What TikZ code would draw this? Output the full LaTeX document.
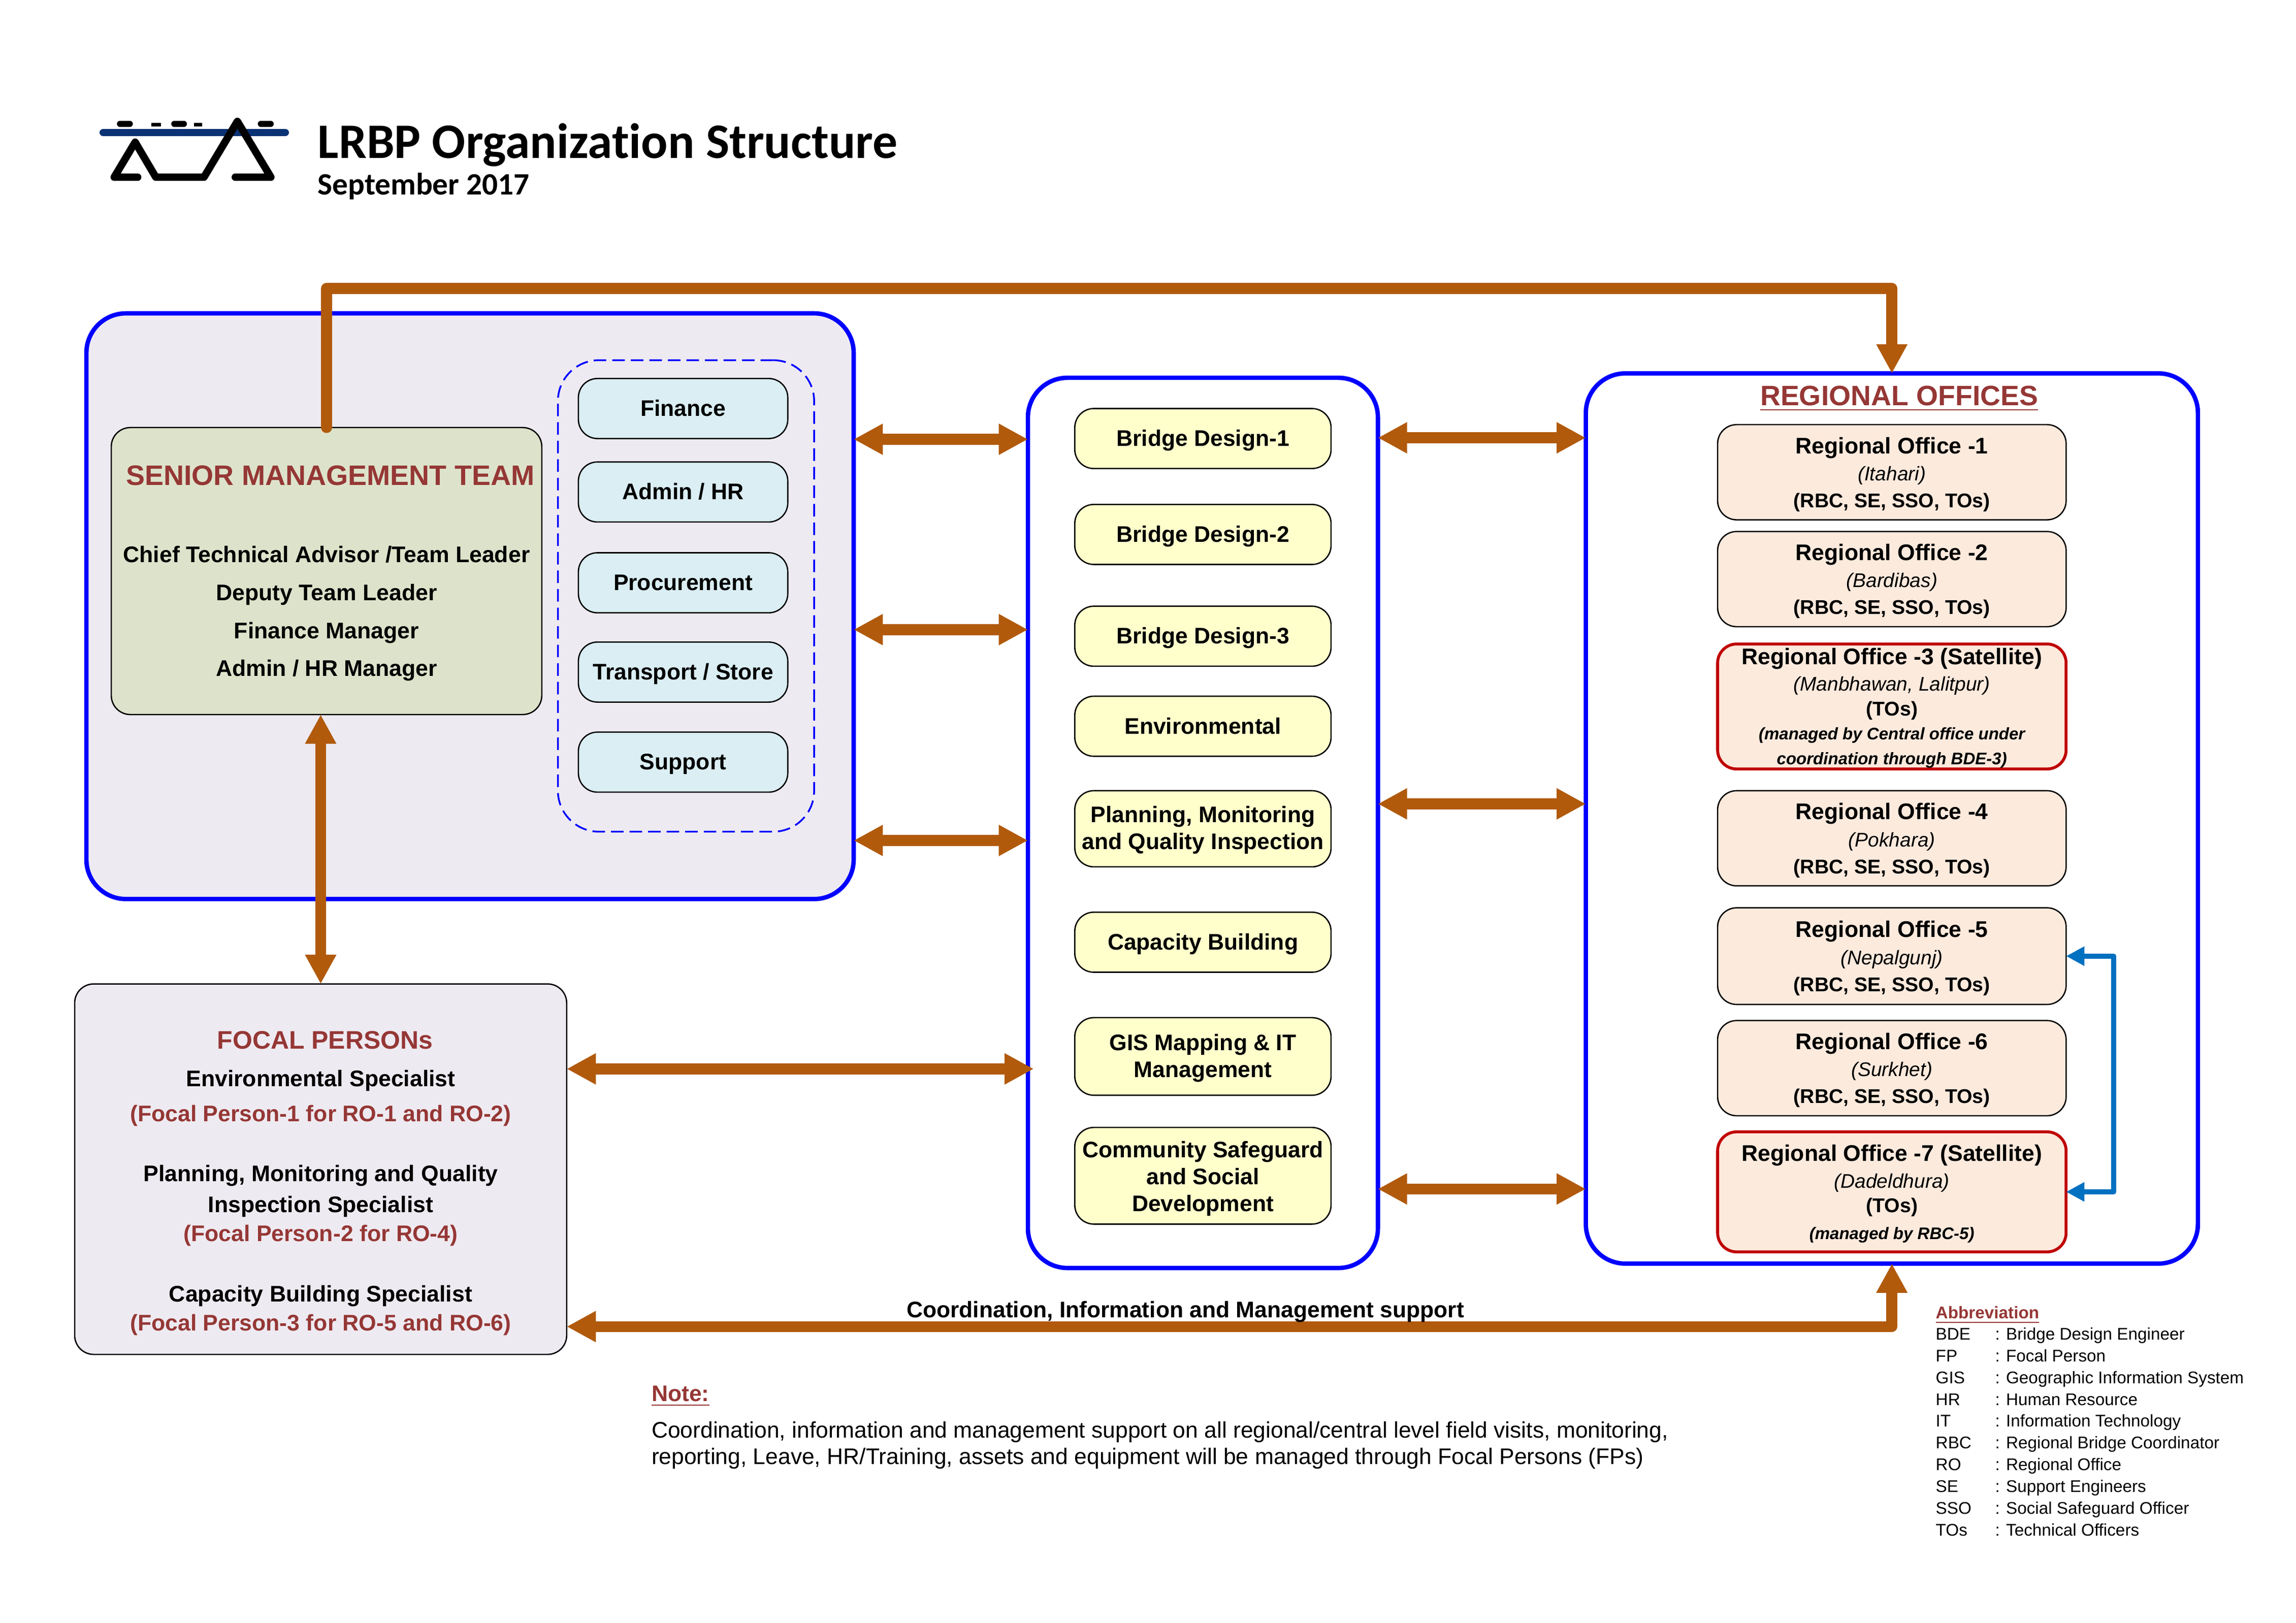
\documentclass[tikz,border=0pt]{standalone}
\usepackage{fontspec}
\setmainfont{Liberation Sans}
\newfontfamily\titlefont[Ligatures=NoCommon]{Carlito}
\usetikzlibrary{arrows.meta}
\definecolor{brownline}{HTML}{B15A0C}
\definecolor{headred}{HTML}{953735}
\definecolor{panelfill}{HTML}{EEEAF1}
\definecolor{greenfill}{HTML}{DDE3CB}
\definecolor{bluefill}{HTML}{DAEEF3}
\definecolor{yellowfill}{HTML}{FFFFCC}
\definecolor{peachfill}{HTML}{FCEADD}
\definecolor{satred}{HTML}{C00000}
\definecolor{linkblue}{HTML}{0070C0}
\definecolor{logoblue}{HTML}{0B3275}
\def\pxu{0.53692pt}
\newcommand{\fsz}[1]{\fontsize{#1}{9.9pt}\selectfont}

\begin{document}
\begin{tikzpicture}[
        x=0.53692pt, y=-0.53692pt,
        outer sep=0pt,
        txt/.style={inner sep=0pt, text height=0.74em, text depth=0.2em, yshift=-0.5pt},
        boxdim/.style 2 args={minimum width=#1*\pxu, minimum height=#2*\pxu, inner sep=0pt},
        panel/.style={draw=blue, line width=3*\pxu, rounded corners=27*\pxu},
        card/.style={draw=black, line width=0.9*\pxu, rounded corners=13*\pxu, align=center,
            execute at begin node={\rule{0pt}{7.4pt}}, execute at end node={\vphantom{g}}},
        unitbox/.style={card, fill=bluefill, boxdim={143}{41}, font=\bfseries\fsz{8.27}},
        designbox/.style={card, fill=yellowfill, boxdim={175}{#1}, font=\bfseries\fsz{8.27}},
        robox/.style={card, fill=peachfill, boxdim={238}{#1}, font=\fsz{8.3}, text height=27.6pt},
        satbox/.style={robox={#1}, draw=satred, line width=2*\pxu},
        bigarrow/.style={{Triangle[length=10.7pt,width=10.7pt]}-{Triangle[length=10.7pt,width=10.7pt]}, brownline, line width=4pt},
        onearrow/.style={-{Triangle[length=10.7pt,width=10.7pt]}, brownline, line width=4pt, line join=round},
        bluearrow/.style={{Triangle[length=6.7pt,width=6.7pt]}-{Triangle[length=6.7pt,width=6.7pt]}, linkblue, line width=1.9pt, line join=round},
        logo/.style={black, line width=2.73pt, line join=round, line cap=round},
        logodot/.style={black, line width=2.2pt, line cap=round},
        logotick/.style={black, line width=1.2pt}
    ]
        \useasboundingbox (0,0) rectangle (1568,1108.4);

        % --- Logo and title ---
        \draw[logoblue, line width=2.73pt, line cap=round] (70.5,90.5) -- (194.8,90.5);
        \draw[logo] (94,121) -- (78,121) -- (92.3,97.1) -- (106.4,121) -- (139.3,121) -- (162.1,82.9) -- (185,121) -- (160.7,121);
        \draw[logodot] (81.9,84.5) -- (88.7,84.5);
        \draw[logodot] (119,84.5) -- (125.6,84.5);
        \draw[logodot] (178.1,84.5) -- (184.9,84.5);
        \draw[logotick] (103.5,85.2) -- (109.8,85.2);
        \draw[logotick] (132.5,85.2) -- (138,85.2);
        \node[txt, anchor=west] (maintitle) at (217,102) {\titlefont\bfseries\fontsize{18.2}{20}\selectfont LRBP Organization Structure};
        \node[txt, anchor=west] (subtitle) at (217,127) {\titlefont\bfseries\fontsize{11.4}{12}\selectfont September 2017};

        % --- Large panels ---
        \node[panel, fill=panelfill, boxdim={524}{400}] (mgmt) at (321,414) {};
        \node[panel, fill=white, boxdim={239}{608}] (mid) at (821.5,562) {};
        \node[panel, fill=white, boxdim={418}{608}] (regional) at (1292,559) {};
        \node[txt, font=\bfseries\fontsize{10.3}{12}\selectfont, text=headred] (regtitle) at (1297,271) {\underline{REGIONAL OFFICES}};

        % --- Senior management ---
        \node[card, fill=greenfill, boxdim={294}{196}] (senior) at (223,390) {};
        \node[txt, font=\bfseries\fontsize{10.33}{12}\selectfont, text=headred] (seniortitle) at (225.5,325.5) {SENIOR MANAGEMENT TEAM};
        \node[txt, font=\bfseries\fsz{8.3}] (post1) at (223,378) {Chief Technical Advisor /Team Leader};
        \node[txt, font=\bfseries\fsz{8.3}] (post2) at (223,404) {Deputy Team Leader};
        \node[txt, font=\bfseries\fsz{8.3}] (post3) at (223,430) {Finance Manager};
        \node[txt, font=\bfseries\fsz{8.3}] (post4) at (223,456) {Admin / HR Manager};

        % --- Support units ---
        \node[draw=blue, dash pattern=on 4.6pt off 2.2pt, line width=1.2*\pxu, rounded corners=28*\pxu, boxdim={175}{322}] (units) at (468.5,407) {};
        \node[unitbox] (finance) at (466.5,279) {Finance};
        \node[unitbox] (admin) at (466.5,336) {Admin / HR};
        \node[unitbox] (procure) at (466.5,398) {Procurement};
        \node[unitbox] (store) at (466.5,459) {Transport / Store};
        \node[unitbox] (support) at (466.5,520.5) {Support};

        % --- Central units ---
        \node[designbox=41] (bd1) at (821.5,299.5) {Bridge Design-1};
        \node[designbox=41] (bd2) at (821.5,365) {Bridge Design-2};
        \node[designbox=41] (bd3) at (821.5,434.5) {Bridge Design-3};
        \node[designbox=41] (env) at (821.5,496) {Environmental};
        \node[designbox=52, text height=17pt] (pmq) at (821.5,566) {Planning, Monitoring\\and Quality Inspection};
        \node[designbox=41] (cap) at (821.5,643.5) {Capacity Building};
        \node[designbox=53, text height=17pt] (gis) at (821.5,721.5) {GIS Mapping \& IT\\Management};
        \node[designbox=66, text height=28pt] (com) at (821.5,803) {Community Safeguard\\and Social\\Development};

        % --- Regional offices ---
        \node[robox=65] (ro1) at (1292,322.5) {{\bfseries\fsz{8.3}Regional Office -1}\\{\itshape\fsz{7.25}(Itahari)}\\{\bfseries\fsz{7.3}(RBC, SE, SSO, TOs)}};
        \node[robox=65] (ro2) at (1292,395.5) {{\bfseries\fsz{8.3}Regional Office -2}\\{\itshape\fsz{7.25}(Bardibas)}\\{\bfseries\fsz{7.3}(RBC, SE, SSO, TOs)}};
        \node[satbox=85, text height=44.1pt] (ro3) at (1292,482.5) {{\bfseries\fsz{8.3}Regional Office -3 (Satellite)}\\[-0.3pt]{\itshape\fsz{7.25}(Manbhawan, Lalitpur)}\\[-0.8pt]{\bfseries\fsz{7.3}(TOs)}\\[-1.2pt]{\bfseries\itshape\fsz{6.15}(managed by Central office under}\\[-0.8pt]{\bfseries\itshape\fsz{6.15}coordination through BDE-3)}};
        \node[robox=65] (ro4) at (1292,572.5) {{\bfseries\fsz{8.3}Regional Office -4}\\{\itshape\fsz{7.25}(Pokhara)}\\{\bfseries\fsz{7.3}(RBC, SE, SSO, TOs)}};
        \node[robox=66] (ro5) at (1292,653) {{\bfseries\fsz{8.3}Regional Office -5}\\{\itshape\fsz{7.25}(Nepalgunj)}\\{\bfseries\fsz{7.3}(RBC, SE, SSO, TOs)}};
        \node[robox=65] (ro6) at (1292,729.5) {{\bfseries\fsz{8.3}Regional Office -6}\\{\itshape\fsz{7.25}(Surkhet)}\\{\bfseries\fsz{7.3}(RBC, SE, SSO, TOs)}};
        \node[satbox=82, text height=36.6pt] (ro7) at (1292,814) {{\bfseries\fsz{8.3}Regional Office -7 (Satellite)}\\{\itshape\fsz{7.25}(Dadeldhura)}\\[-1pt]{\bfseries\fsz{7.3}(TOs)}\\{\bfseries\itshape\fsz{6.15}(managed by RBC-5)}};

        % --- Focal persons ---
        \node[card, fill=panelfill, boxdim={336}{253}] (focal) at (219,798.5) {};
        \node[txt, font=\bfseries\fontsize{9.3}{11}\selectfont, text=headred] (focaltitle) at (222,710.5) {FOCAL PERSONs};
        \foreach \name/\ypos/\col/\label in {
            f1/736/black/Environmental Specialist,
            f2/760/headred/(Focal Person-1 for RO-1 and RO-2),
            f3/801/black/{Planning, Monitoring and Quality},
            f4/822/black/Inspection Specialist,
            f5/842/headred/(Focal Person-2 for RO-4),
            f6/883/black/Capacity Building Specialist,
            f7/903/headred/(Focal Person-3 for RO-5 and RO-6)}
            \node[txt, font=\bfseries\fsz{8.3}, text=\col] (\name) at (219,\ypos) {\label};

        % --- Connectors ---
        \coordinate (rowa) at (0,300);
        \coordinate (rowb) at (0,430);
        \coordinate (rowc) at (0,574);
        \coordinate (rowd) at (0,299);
        \coordinate (rowe) at (0,549);
        \coordinate (rowf) at (0,812);
        \coordinate (rowg) at (0,730);
        \coordinate (rowh) at (0,906);
        \coordinate (rowi) at (0,197);
        \draw[onearrow, line cap=round] (senior.north) -- (senior.north |- rowi) -| (regional.north);
        \draw[bigarrow] (mgmt.east |- rowa) -- (mid.west |- rowa);
        \draw[bigarrow] (mgmt.east |- rowb) -- (mid.west |- rowb);
        \draw[bigarrow] (mgmt.east |- rowc) -- (mid.west |- rowc);
        \draw[bigarrow] (mid.east |- rowd) -- (regional.west |- rowd);
        \draw[bigarrow] (mid.east |- rowe) -- (regional.west |- rowe);
        \draw[bigarrow] (mid.east |- rowf) -- (regional.west |- rowf);
        \draw[bigarrow] (focal.north |- senior.south) -- (focal.north);
        \draw[bigarrow] (focal.east |- rowg) -- ([xshift=4*\pxu]mid.west |- rowg);
        \draw[bigarrow, line join=round] (focal.east |- rowh) -| (regional.south);
        \coordinate (linkx) at (1443.5,0);
        \draw[bluearrow] (ro5.east) -- (linkx |- ro5.east) -- (linkx |- ro7.east) -- (ro7.east);
        \node[txt, font=\bfseries\fsz{8.27}] (coordlabel) at (809.5,894) {Coordination, Information and Management support};

        % --- Note ---
        \node[txt, anchor=west, font=\bfseries\fsz{8.27}, text=headred] (notehead) at (445,951) {\underline{Note:}};
        \node[txt, anchor=west, font=\fsz{8.27}] (note1) at (445,976) {Coordination, information and management support on all regional/central level field visits, monitoring,};
        \node[txt, anchor=west, font=\fsz{8.27}] (note2) at (445,994) {reporting, Leave, HR/Training, assets and equipment will be managed through Focal Persons (FPs)};

        % --- Abbreviations ---
        \node[txt, anchor=west, font=\bfseries\fsz{6.2}, text=headred] (abbrhead) at (1322,894.5) {\underline{Abbreviation}};
        \foreach \i/\short/\long in {
            0/BDE/Bridge Design Engineer,
            1/FP/Focal Person,
            2/GIS/Geographic Information System,
            3/HR/Human Resource,
            4/IT/Information Technology,
            5/RBC/Regional Bridge Coordinator,
            6/RO/Regional Office,
            7/SE/Support Engineers,
            8/SSO/Social Safeguard Officer,
            9/TOs/Technical Officers}{
            \node[txt, anchor=west, font=\fsz{6.2}] (abbr\i) at (1322,909+14.9*\i) {\short};
            \node[txt, anchor=west, font=\fsz{6.2}] (full\i) at (1362.5,909+14.9*\i) {: \long};
        }
    \end{tikzpicture}
\end{document}
